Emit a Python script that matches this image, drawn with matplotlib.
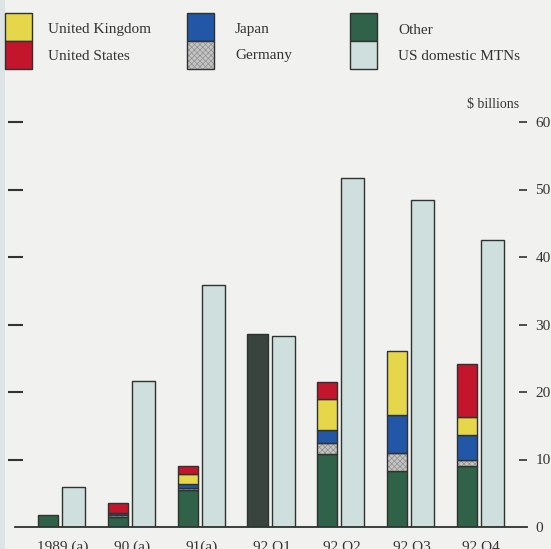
import matplotlib
matplotlib.use("Agg")
import matplotlib.pyplot as plt
import matplotlib.patches as patches
import numpy as np

plt.rcParams['font.family'] = ['Liberation Serif', 'DejaVu Serif']
plt.rcParams['hatch.linewidth'] = 0.5

categories = ["1989 (a)", "90 (a)", "91(a)", "92 Q1", "92 Q2", "92 Q3", "92 Q4"]
other = [1.8, 1.5, 5.5, 28.6, 10.8, 8.3, 9.0]
germany = [0, 0.25, 0.3, 0, 1.6, 2.6, 1.0]
japan = [0, 0.35, 0.6, 0, 2.0, 5.7, 3.6]
uk = [0, 0, 1.5, 0, 4.5, 9.5, 2.7]
us = [0, 1.5, 1.1, 0, 2.6, 0, 7.8]
mtn = [5.9, 21.6, 35.8, 28.3, 51.7, 48.4, 42.5]
y_ticks = [0, 10, 20, 30, 40, 50, 60]

bg = '#f1f1ef'
edge = '#2e3330'
c_uk = '#e6d64a'
c_us = '#c3152c'
c_jp = '#2256a6'
c_de = '#c4c4c4'
c_de_hatch = '#8f8f8f'
c_other = '#2f6248'
c_other_q1 = '#39443f'
c_mtn = '#cfdfdd'

W, H = 551, 549
fig = plt.figure(figsize=(W / 100, H / 100), dpi=100, facecolor=bg)

# faint bluish strip down the left edge
fig.add_artist(patches.Rectangle((0, 0), 5 / W, 1, transform=fig.transFigure,
                                 facecolor='#dce4e6', edgecolor='none'))

ax = fig.add_axes([15 / W, 22 / H, 512 / W, 405 / H], facecolor=bg)

x = np.arange(len(categories))
w_stack, w_mtn = 0.29, 0.33
x_stack = x - 0.205
x_mtn = x + 0.16

def stacked(values, bottoms, color, hatch=None):
    values = np.array(values, dtype=float)
    keep = values > 0
    if hatch:
        # light grey fill with a fine darker cross-hatch, then the outline
        ax.bar(x_stack[keep], values[keep], w_stack, bottom=bottoms[keep],
               color=color, edgecolor=c_de_hatch, linewidth=0, hatch=hatch)
        ax.bar(x_stack[keep], values[keep], w_stack, bottom=bottoms[keep],
               fill=False, edgecolor=edge, linewidth=1.0)
    else:
        ax.bar(x_stack[keep], values[keep], w_stack, bottom=bottoms[keep],
               color=color, edgecolor=edge, linewidth=1.0)
    return bottoms + values

bottom = np.zeros(len(categories))
other_colors = [c_other_q1 if c == "92 Q1" else c_other for c in categories]
ax.bar(x_stack, other, w_stack, color=other_colors, edgecolor=edge, linewidth=1.0)
bottom = bottom + np.array(other)
bottom = stacked(germany, bottom, c_de, hatch='xxxxxx')
bottom = stacked(japan, bottom, c_jp)
bottom = stacked(uk, bottom, c_uk)
bottom = stacked(us, bottom, c_us)

ax.bar(x_mtn, mtn, w_mtn, color=c_mtn, edgecolor=edge, linewidth=1.0)

ax.set_xlim(-0.68, 6.655)
ax.set_ylim(0, 60)

for s in ['top', 'right', 'left']:
    ax.spines[s].set_visible(False)
ax.spines['bottom'].set_color(edge)
ax.spines['bottom'].set_linewidth(1.3)

ax.set_xticks(x)
ax.set_xticklabels(categories, fontsize=11, color='#333333')
ax.tick_params(axis='x', length=0, pad=10)

ax.set_yticks(y_ticks)
ax.tick_params(axis='y', which='both', left=True, right=True,
               labelleft=False, labelright=True, direction='in',
               length=6, width=1.2, color='#333333', pad=6,
               labelsize=11, labelcolor='#333333')
# long marks on the left side, short ones on the right
for tl in ax.yaxis.get_major_ticks():
    tl.tick1line.set_markersize(0)
for yv in y_ticks[1:]:
    ax.plot([-0.68 - 0.1, -0.68 + 0.115], [yv, yv], color='#333333',
            lw=1.5, clip_on=False, solid_capstyle='butt')
ax.yaxis.get_major_ticks()[0].tick2line.set_visible(False)

fig.text(493 / W, 1 - 104 / H, "$ billions", ha='center', va='center',
         fontsize=10, color='#333333')

# legend: pairs of swatches stacked in three columns
legend_cols = [
    (5, 48, [("United Kingdom", c_uk, None), ("United States", c_us, None)]),
    (187, 235, [("Japan", c_jp, None), ("Germany", c_de, 'xxxxxx')]),
    (350, 398, [("Other", c_other, None), ("US domestic MTNs", c_mtn, None)]),
]
sw_w, sw_h = 27, 28
text_y = [30, 56]
for px, tx, items in legend_cols:
    for row, (label, color, hatch) in enumerate(items):
        top = 13 + row * sw_h
        rect = (px / W, 1 - (top + sw_h) / H)
        if hatch:
            fig.add_artist(patches.Rectangle(rect, sw_w / W, sw_h / H,
                                             transform=fig.transFigure, facecolor=color,
                                             edgecolor=c_de_hatch, linewidth=0, hatch=hatch))
            fig.add_artist(patches.Rectangle(rect, sw_w / W, sw_h / H,
                                             transform=fig.transFigure, fill=False,
                                             edgecolor=edge, linewidth=1.0))
        else:
            fig.add_artist(patches.Rectangle(rect, sw_w / W, sw_h / H,
                                             transform=fig.transFigure, facecolor=color,
                                             edgecolor=edge, linewidth=1.0))
        fig.text(tx / W, 1 - text_y[row] / H, label, ha='left', va='center',
                 fontsize=11, color='#333333')

fig.savefig("out.png", dpi=100, facecolor=bg)
